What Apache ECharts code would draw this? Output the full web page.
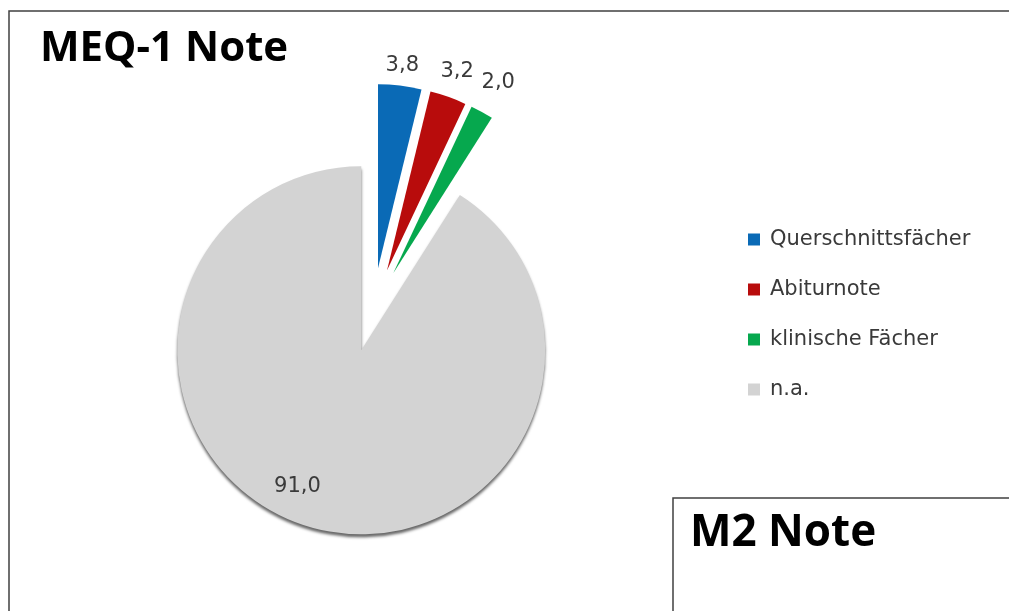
<!DOCTYPE html>
<html>
<head>
<meta charset="utf-8">
<script src="https://cdn.jsdelivr.net/npm/echarts@6/dist/echarts.min.js"></script>
<style>
  html, body { margin: 0; padding: 0; background: #fff; }
  #chart { width: 1009px; height: 611px; }
</style>
</head>
<body>
<div id="chart"></div>
<script>
// Daten
const categories = ['Querschnittsfächer', 'Abiturnote', 'klinische Fächer', 'n.a.']
const values = [3.8, 3.2, 2.0, 91.0]

const colors = ['#0A6AB6', '#B80C0C', '#06A84E', '#D3D3D3']
const labelLens = [20, 27, 34, -34]
const textColor = '#3a3a3a'

const chart = echarts.init(document.getElementById('chart'))

const pieData = categories.map((name, i) => {
  const item = {
    name: name,
    value: values[i],
    selected: true,
    itemStyle: { color: colors[i] },
    labelLine: { show: false, length: labelLens[i], length2: 0 }
  }
  if (i === 3) {
    // nur das grosse Segment bekommt den Schatten unten
    item.itemStyle.shadowBlur = 3
    item.itemStyle.shadowOffsetY = 3
    item.itemStyle.shadowColor = 'rgba(0,0,0,0.6)'
  }
  return item
})

const option = {
  backgroundColor: '#fff',
  animation: false,
  title: {
    text: 'MEQ-1 Note',
    left: 35,
    top: 23,
    textStyle: {
      fontFamily: 'Open Sans',
      fontWeight: 'bold',
      fontSize: 42,
      color: '#000'
    }
  },
  legend: {
    orient: 'vertical',
    left: 743,
    top: 224,
    icon: 'rect',
    itemWidth: 12,
    itemHeight: 12,
    itemGap: 29,
    selectedMode: false,
    data: categories,
    formatter: name => '{a|' + name + '}',
    textStyle: {
      rich: {
        a: {
          fontFamily: 'DejaVu Sans',
          fontSize: 21,
          lineHeight: 24,
          color: textColor,
          padding: [0, 0, 0, 5]
        }
      }
    }
  },
  graphic: [
    {
      type: 'rect',
      shape: { x: 9, y: 11, width: 1020, height: 620 },
      style: { fill: 'none', stroke: '#404040', lineWidth: 1.5 },
      z: 100
    },
    {
      type: 'rect',
      shape: { x: 673, y: 498, width: 400, height: 200 },
      style: { fill: '#fff', stroke: '#404040', lineWidth: 1.5 },
      z: 100
    },
    {
      type: 'text',
      x: 690,
      y: 555,
      z: 101,
      style: {
        text: 'M2 Note',
        fontFamily: 'Open Sans',
        fontWeight: 'bold',
        fontSize: 44,
        fill: '#000',
        verticalAlign: 'bottom'
      }
    }
  ],
  series: [
    {
      name: 'MEQ-1 Note',
      type: 'pie',
      center: [373, 310],
      radius: 184,
      startAngle: 90,
      clockwise: true,
      selectedMode: 'multiple',
      selectedOffset: 42,
      avoidLabelOverlap: false,
      label: {
        show: true,
        position: 'outside',
        distanceToLabelLine: 0,
        fontFamily: 'DejaVu Sans',
        fontSize: 21,
        color: textColor,
        formatter: p => p.value.toFixed(1).replace('.', ',')
      },
      labelLayout: params => {
        if (params.dataIndex === 3) {
          return { align: 'center', verticalAlign: 'middle', dx: -22, dy: -8 }
        }
        return { align: 'center', verticalAlign: 'middle' }
      },
      emphasis: { disabled: true },
      data: pieData
    }
  ]
}

chart.setOption(option)
</script>
</body>
</html>
